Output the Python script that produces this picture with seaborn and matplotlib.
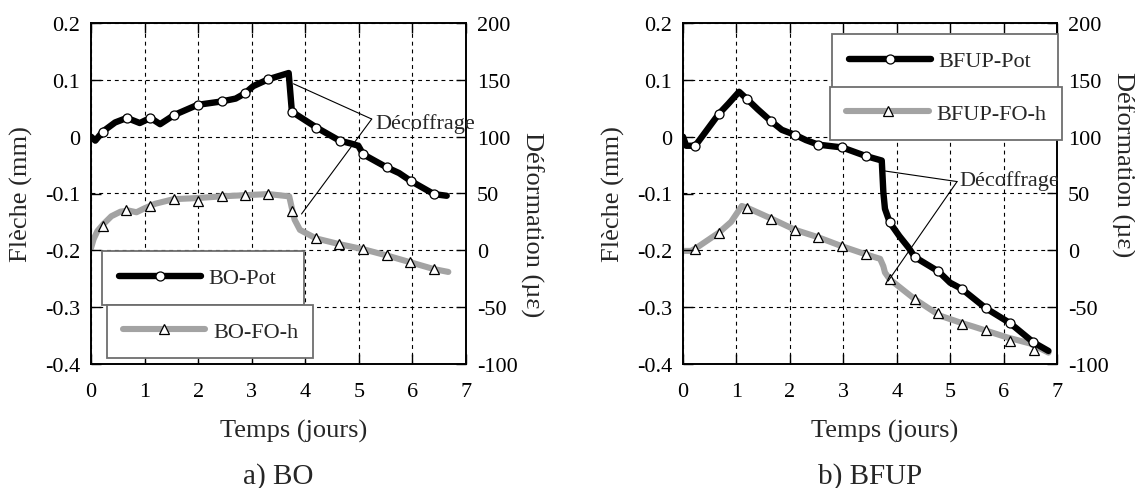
import numpy as np
import matplotlib
matplotlib.use("Agg")
import matplotlib.pyplot as plt
from matplotlib.lines import Line2D
import seaborn as sns

# ---------------- data ----------------
# Panel a) BO
bo_pot_t = [0, 0.08, 0.22, 0.45, 0.67, 0.91, 1.11, 1.29, 1.55, 1.99, 2.44, 2.70, 2.87, 3.03, 3.31,
            3.69, 3.75, 4.21, 4.64, 4.85, 4.99, 5.08, 5.52, 5.75, 5.97, 6.40, 6.64]
bo_pot_f = [0.0, -0.007, 0.009, 0.025, 0.033, 0.024, 0.033, 0.022, 0.038, 0.056, 0.062, 0.067, 0.076, 0.089, 0.101,
            0.112, 0.044, 0.016, -0.007, -0.012, -0.016, -0.031, -0.054, -0.064, -0.078, -0.101, -0.104]
bo_pot_mt = [0.22, 0.67, 1.11, 1.55, 1.99, 2.44, 2.87, 3.31, 3.75, 4.20, 4.64, 5.08, 5.52, 5.97, 6.40]
bo_pot_mf = [0.009, 0.033, 0.033, 0.038, 0.056, 0.062, 0.076, 0.101, 0.044, 0.016, -0.007, -0.031, -0.054, -0.078, -0.101]

bo_fo_t = [0, 0.05, 0.12, 0.23, 0.38, 0.55, 0.70, 0.85, 1.00, 1.20, 1.54, 1.99, 2.44, 2.87, 3.31,
           3.70, 3.75, 3.80, 3.90, 4.20, 4.63, 5.08, 5.52, 5.96, 6.40, 6.67]
bo_fo_e = [2, 10, 17, 23, 30, 34, 35, 33.5, 37, 41, 45, 46, 47.5, 48.5, 49.5,
           47.5, 37, 27, 18, 10.5, 5.5, 1, -4.5, -10.5, -16.5, -19]
bo_fo_mt = [0.22, 0.65, 1.10, 1.54, 1.99, 2.44, 2.87, 3.31, 3.75, 4.20, 4.63, 5.08, 5.52, 5.96, 6.40]
bo_fo_me = [21.5, 35.5, 39, 45, 43.5, 47.5, 48.5, 49.5, 35, 10.5, 5.5, 1, -4.5, -10.5, -16.5]

# Panel b) BFUP
bfup_pot_t = [0, 0.06, 0.23, 0.45, 0.67, 0.85, 1.05, 1.20, 1.40, 1.65, 1.85, 2.10, 2.30, 2.53, 2.98, 3.42,
              3.72, 3.75, 3.78, 3.87, 4.05, 4.22, 4.34, 4.78, 5.00, 5.22, 5.67, 6.12, 6.56, 6.84]
bfup_pot_f = [0.0, -0.016, -0.016, 0.012, 0.040, 0.058, 0.079, 0.066, 0.048, 0.027, 0.012, 0.003, -0.006, -0.014, -0.019, -0.034,
              -0.042, -0.098, -0.127, -0.151, -0.175, -0.195, -0.212, -0.237, -0.257, -0.268, -0.302, -0.328, -0.362, -0.377]
bfup_pot_mt = [0.23, 0.67, 1.20, 1.65, 2.10, 2.53, 2.98, 3.42, 3.87, 4.34, 4.78, 5.22, 5.67, 6.12, 6.56]
bfup_pot_mf = [-0.016, 0.040, 0.066, 0.027, 0.003, -0.014, -0.019, -0.034, -0.151, -0.212, -0.237, -0.268, -0.302, -0.328, -0.362]

bfup_fo_t = [0, 0.15, 0.23, 0.45, 0.67, 0.90, 1.10, 1.20, 1.65, 2.10, 2.53, 2.98, 3.42, 3.69, 3.75, 3.78,
             3.87, 4.34, 4.81, 5.22, 5.43, 6.06, 6.50, 6.84]
bfup_fo_e = [-0.5, -0.5, 1.5, 8.5, 15.5, 25, 39, 37.5, 28, 18, 11.5, 3.5, -3.5, -7.5, -14, -19.5,
             -25.5, -43, -57.5, -64, -67, -76.5, -82, -90]
bfup_fo_mt = [0.23, 0.67, 1.20, 1.65, 2.10, 2.53, 2.98, 3.42, 3.87, 4.34, 4.78, 5.22, 5.68, 6.12, 6.57]
bfup_fo_me = [1.5, 15.5, 37.5, 28, 18, 11.5, 3.5, -3.5, -25.5, -43, -55.5, -65, -70, -80, -88]

x_ticks = [0, 1, 2, 3, 4, 5, 6, 7]
y_ticks = [-0.4, -0.3, -0.2, -0.1, 0, 0.1, 0.2]
y_ticklabels = ["-0.4", "-0.3", "-0.2", "-0.1", "0", "0.1", "0.2"]
y2_ticks = [-100, -50, 0, 50, 100, 150, 200]
y2_ticklabels = ["-100", "-50", "0", "50", "100", "150", "200"]

# ---------------- style ----------------
sns.set_style("white")
plt.rcParams["font.family"] = ["Liberation Serif", "DejaVu Serif"]

W, H = 1135, 489
fig = plt.figure(figsize=(W / 100, H / 100), dpi=100)

GRAY = "#a3a3a3"
FS_TICK = 16
FS_LAB = 19


def fx(px):
    return px / W


def fy(py):
    return 1 - py / H


def panel(left_px, width_px, pot, fo, names, leg1, leg2, ann, ylab2_y, caption):
    ax = fig.add_axes([fx(left_px), fy(365), width_px / W, 341 / H])
    ax2 = ax.twinx()
    ax.set_zorder(ax2.get_zorder() + 1)
    ax.patch.set_visible(False)
    ax2.patch.set_visible(False)

    ax.set_xlim(0, 7)
    ax.set_ylim(-0.4, 0.2)
    ax2.set_ylim(-100, 200)
    ax.set_xticks(x_ticks)
    ax.set_xticklabels([str(v) for v in x_ticks])
    ax.set_yticks(y_ticks)
    ax.set_yticklabels(y_ticklabels)
    ax2.set_yticks(y2_ticks)
    ax2.set_yticklabels(y2_ticklabels)

    # grid lives on the twin (below the grey curve)
    ax2.xaxis.set_visible(True)
    ax2.tick_params(axis="x", bottom=False, top=False, labelbottom=False, labeltop=False)
    ax2.set_axisbelow(True)
    ax2.grid(True, axis="both", color="black", linestyle=(0, (3.5, 3.5)), linewidth=0.8)
    ax.grid(False)

    ax.tick_params(axis="x", direction="in", length=7, width=1, top=True, bottom=True,
                   labelsize=FS_TICK, pad=13, colors="black")
    ax.tick_params(axis="y", direction="in", length=7, width=1, left=True, right=False,
                   labelsize=FS_TICK, pad=8, colors="black")
    ax2.tick_params(axis="y", direction="in", length=7, width=1, right=True,
                    labelsize=FS_TICK, pad=8, colors="black")
    for a in (ax, ax2):
        for s in a.spines.values():
            s.set_color("black")
            s.set_linewidth(1.2)

    # grey curve (strain, right axis)
    sns.lineplot(x=fo[0], y=fo[1], ax=ax2, color=GRAY, linewidth=4.4, sort=False,
                 estimator=None, legend=False, solid_joinstyle="round")
    ax2.plot(fo[2], fo[3], ls="none", marker="^", ms=7, mfc="white", mec="black", mew=0.9, zorder=3)

    # black curve (deflection, left axis)
    sns.lineplot(x=pot[0], y=pot[1], ax=ax, color="black", linewidth=4.6, sort=False,
                 estimator=None, legend=False, solid_joinstyle="round")
    ax.plot(pot[2], pot[3], ls="none", marker="o", ms=6.5, mfc="white", mec="black", mew=0.9, zorder=3)

    ax.set_xlabel("Temps (jours)", fontsize=FS_LAB)
    ax.xaxis.set_label_coords(0.539, -0.196)
    ax.xaxis.label.set_va("center")
    ax.set_ylabel("Flèche (mm)", fontsize=FS_LAB)
    ax.yaxis.set_label_coords(-0.186, 0.5)
    ax.yaxis.label.set_va("center")
    ax2.set_ylabel("Déformation (µε)", fontsize=FS_LAB, rotation=270)
    ax2.yaxis.set_label_coords(1.175, ylab2_y)
    ax2.yaxis.label.set_va("center")

    # legends (two separate boxes)
    h1 = Line2D([], [], color="black", lw=4.6, marker="o", ms=6.5, mfc="white", mec="black", mew=0.9)
    h2 = Line2D([], [], color=GRAY, lw=4.4, marker="^", ms=7, mfc="white", mec="black", mew=0.9)
    legs = []
    for h, nm, (lx, ly, lw) in ((h1, names[0], leg1), (h2, names[1], leg2)):
        lg = ax.legend([h], [nm], loc="upper left", bbox_to_anchor=(fx(lx), fy(ly), lw / W, 0),
                       bbox_transform=fig.transFigure, mode="expand", borderaxespad=0,
                       fontsize=16, handlelength=3.7, handletextpad=0.35, borderpad=0.74,
                       numpoints=1, fancybox=False, framealpha=1, facecolor="white",
                       edgecolor="#6e6e6e")
        lg.get_frame().set_linewidth(1.3)
        legs.append(lg)
    ax.add_artist(legs[0])

    # annotation "Décoffrage"
    (apex, p1, p2, txt) = ann
    ax.text(txt[0], txt[1], "Décoffrage", fontsize=16, ha="left", va="center", zorder=6)
    for p in (p1, p2):
        ax.annotate("", xy=p, xytext=apex,
                    arrowprops=dict(arrowstyle="-", color="black", lw=0.8, shrinkA=0, shrinkB=0))

    fig.text(fx(left_px + width_px / 2), fy(477), caption, fontsize=21, ha="center", va="center")
    return ax, ax2


panel(91, 375,
      (bo_pot_t, bo_pot_f, bo_pot_mt, bo_pot_mf),
      (bo_fo_t, bo_fo_e, bo_fo_mt, bo_fo_me),
      ("BO-Pot", "BO-FO-h"),
      (102.3, 252.3, 202), (106.7, 305.7, 206.6),
      ((5.24, 0.031), (3.78, 0.093), (3.93, -0.136), (5.30, 0.024)),
      0.413, "a) BO")

panel(683, 374,
      (bfup_pot_t, bfup_pot_f, bfup_pot_mt, bfup_pot_mf),
      (bfup_fo_t, bfup_fo_e, bfup_fo_mt, bfup_fo_me),
      ("BFUP-Pot", "BFUP-FO-h"),
      (832.3, 35.3, 226), (830, 88, 232.3),
      ((5.13, -0.079), (3.75, -0.060), (3.84, -0.254), (5.18, -0.077)),
      0.589, "b) BFUP")

fig.savefig("out.png", dpi=100, facecolor="white")
